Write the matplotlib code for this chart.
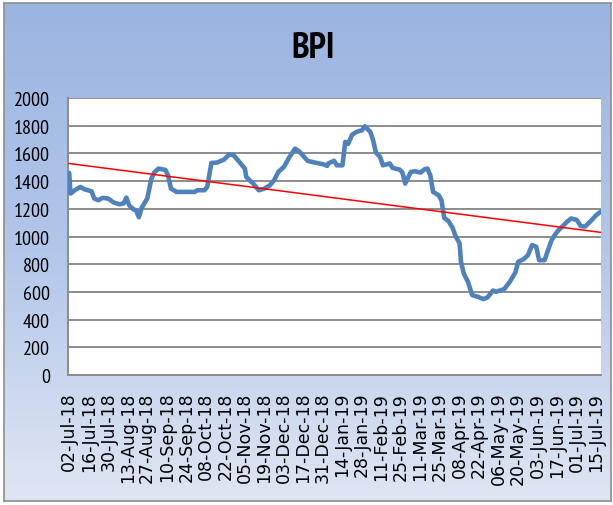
import numpy as np
import pandas as pd
import matplotlib
matplotlib.use("Agg")
import matplotlib.pyplot as plt
import matplotlib.dates as mdates
from matplotlib.colors import LinearSegmentedColormap

# BPI values
dates = [
    "2018-07-02", "2018-07-03", "2018-07-06", "2018-07-10", "2018-07-13", "2018-07-18",
    "2018-07-20", "2018-07-23", "2018-07-26", "2018-07-30", "2018-08-03", "2018-08-07",
    "2018-08-10", "2018-08-12", "2018-08-14", "2018-08-17", "2018-08-19", "2018-08-21",
    "2018-08-23", "2018-08-27", "2018-08-30", "2018-09-01", "2018-09-04", "2018-09-09",
    "2018-09-11", "2018-09-13", "2018-09-17", "2018-09-23", "2018-09-30", "2018-10-02",
    "2018-10-07", "2018-10-09", "2018-10-12", "2018-10-16", "2018-10-21", "2018-10-25",
    "2018-10-28", "2018-11-01", "2018-11-05", "2018-11-06", "2018-11-11", "2018-11-15",
    "2018-11-19", "2018-11-23", "2018-11-26", "2018-11-29", "2018-12-03", "2018-12-07",
    "2018-12-11", "2018-12-14", "2018-12-20", "2018-12-25", "2018-12-31", "2019-01-03",
    "2019-01-04", "2019-01-08", "2019-01-10", "2019-01-14", "2019-01-16", "2019-01-18",
    "2019-01-21", "2019-01-24", "2019-01-28", "2019-01-30", "2019-02-03", "2019-02-05",
    "2019-02-07", "2019-02-10", "2019-02-12", "2019-02-17", "2019-02-19", "2019-02-24",
    "2019-02-26", "2019-02-28", "2019-03-04", "2019-03-07", "2019-03-11", "2019-03-14",
    "2019-03-16", "2019-03-18", "2019-03-20", "2019-03-24", "2019-03-26", "2019-03-28",
    "2019-03-31", "2019-04-03", "2019-04-05", "2019-04-08", "2019-04-09", "2019-04-11",
    "2019-04-14", "2019-04-17", "2019-04-21", "2019-04-25", "2019-04-28", "2019-05-02",
    "2019-05-04", "2019-05-10", "2019-05-14", "2019-05-18", "2019-05-20", "2019-05-24",
    "2019-05-27", "2019-05-30", "2019-06-02", "2019-06-04", "2019-06-08", "2019-06-10",
    "2019-06-13", "2019-06-16", "2019-06-18", "2019-06-21", "2019-06-24", "2019-06-27",
    "2019-07-01", "2019-07-04", "2019-07-07", "2019-07-11", "2019-07-15", "2019-07-18",
]
bpi = [
    1460, 1310, 1334, 1358, 1341, 1327,
    1274, 1262, 1279, 1274, 1245, 1233,
    1238, 1281, 1226, 1197, 1188, 1139,
    1207, 1274, 1418, 1462, 1490, 1481,
    1440, 1346, 1322, 1322, 1322, 1334,
    1334, 1358, 1531, 1534, 1555, 1594,
    1586, 1539, 1490, 1430, 1382, 1334,
    1346, 1370, 1406, 1466, 1502, 1574,
    1634, 1615, 1546, 1534, 1522, 1510,
    1529, 1546, 1514, 1514, 1683, 1668,
    1736, 1755, 1767, 1796, 1755, 1695,
    1606, 1574, 1514, 1527, 1495, 1483,
    1462, 1382, 1466, 1471, 1462, 1486,
    1490, 1442, 1322, 1298, 1262, 1135,
    1111, 1063, 1005, 950, 817, 733,
    673, 577, 565, 548, 560, 610,
    601, 620, 673, 740, 817, 837,
    865, 938, 926, 829, 829, 889,
    974, 1022, 1046, 1075, 1106, 1130,
    1120, 1075, 1072, 1111, 1154, 1178,
]
trend_dates = ["2018-07-02", "2019-07-18"]
trend_values = [1527, 1030]
y_ticks = list(range(0, 2001, 200))
x_tick_first = "2018-07-02"
x_tick_last = "2019-07-15"

df = pd.DataFrame({"date": pd.to_datetime(dates), "bpi": bpi})

W, H = 613, 506
fig = plt.figure(figsize=(W / 100, H / 100), dpi=100)
fig.patch.set_facecolor("white")

# gradient chart background with thin grey frame
bg = fig.add_axes([4 / W, 4 / H, 607 / W, 498 / H])
cmap = LinearSegmentedColormap.from_list("bg", ["#9bb4e0", "#b3c7ea", "#dfe6f3"])
bg.imshow(np.linspace(0, 1, 256).reshape(-1, 1), aspect="auto", cmap=cmap,
          extent=[0, 1, 0, 1], origin="upper")
bg.set_xticks([])
bg.set_yticks([])
for s in bg.spines.values():
    s.set_color("#8e8e8e")
    s.set_linewidth(1.2)

ax = fig.add_axes([68 / W, 1 - 376 / H, 533 / W, 277 / H])
ax.set_facecolor("white")
ax.plot(df["date"], df["bpi"], color="#4f81bd", lw=3.3, solid_joinstyle="round",
        solid_capstyle="round", zorder=3)
ax.plot(pd.to_datetime(trend_dates), trend_values, color="#ff0000", lw=1.1, zorder=4)

ax.set_ylim(0, 2000)
ax.set_yticks(y_ticks)
ax.yaxis.grid(True, color="#8c8c8c", lw=1.4)
ax.set_axisbelow(True)

ticks = pd.date_range(x_tick_first, x_tick_last, freq="14D")
ax.set_xticks(ticks)
ax.xaxis.set_major_formatter(mdates.DateFormatter("%d-%b-%y"))
ax.set_xlim(pd.Timestamp("2018-07-01 04:00"), pd.Timestamp("2019-07-18 10:00"))
ax.tick_params(length=0)
ax.tick_params(axis="x", rotation=90, pad=12, labelsize=12.5)
ax.tick_params(axis="y", pad=13)
for lab in ax.get_yticklabels():
    lab.set_family("PT Sans Narrow")
    lab.set_fontsize(14.5)

for side in ["top", "right"]:
    ax.spines[side].set_visible(False)
for side in ["left", "bottom"]:
    ax.spines[side].set_color("#8c8c8c")
    ax.spines[side].set_linewidth(1.4)

fig.text(0.51, 1 - 48 / H, "BPI", ha="center", va="center",
         family="PT Sans Narrow", fontweight="bold", fontsize=26)

plt.savefig("out.png", dpi=100)
